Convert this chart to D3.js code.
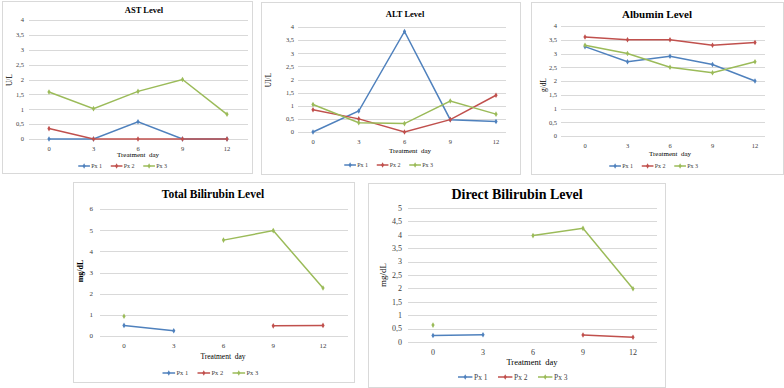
<!DOCTYPE html>
<html><head><meta charset="utf-8">
<script src="https://cdn.jsdelivr.net/npm/d3@7"></script>
<style>body{margin:0;background:#fff;}svg{display:block;} svg text{font-family:'Liberation Serif','Times New Roman',serif;}</style>
</head><body>
<script>
const days = [0, 3, 6, 9, 12];
const seriesNames = ["Px 1", "Px 2", "Px 3"];
const seriesColors = ["#4F81BD", "#C0504D", "#9BBB59"];

const astPx1 = [0, 0, 0.58, 0, 0];
const astPx2 = [0.35, 0, 0, 0, 0];
const astPx3 = [1.58, 1.02, 1.6, 2.0, 0.83];

const altPx1 = [0, 0.8, 3.83, 0.47, 0.4];
const altPx2 = [0.85, 0.5, 0, 0.47, 1.4];
const altPx3 = [1.05, 0.35, 0.32, 1.18, 0.68];

const albPx1 = [3.25, 2.7, 2.9, 2.6, 2.0];
const albPx2 = [3.6, 3.5, 3.5, 3.3, 3.4];
const albPx3 = [3.3, 3.0, 2.5, 2.3, 2.7];

const tbilPx1 = [0.5, 0.25, null, null, null];
const tbilPx2 = [null, null, null, 0.48, 0.5];
const tbilPx3 = [0.93, null, 4.53, 4.98, 2.27];

const dbilPx1 = [0.24, 0.27, null, null, null];
const dbilPx2 = [null, null, null, 0.26, 0.18];
const dbilPx3 = [0.63, null, 3.97, 4.24, 1.99];

const ticks4 = [0, 0.5, 1, 1.5, 2, 2.5, 3, 3.5, 4];
const ticks5 = [0, 0.5, 1, 1.5, 2, 2.5, 3, 3.5, 4, 4.5, 5];
const ticks6 = [0, 1, 2, 3, 4, 5, 6];

const panels = [
  {title:"AST Level", ylab:"U/L", data:[astPx1, astPx2, astPx3], ticks:ticks4, ymax:4,
   box:[2,1,252,173], x0:49, x12:227, g0:29, g1:248, y0:139, y1:20, tickR:24,
   tSize:8.5, tx:144, ty:13, ylx:12, yly:80, xlx:138, xly:157, lgx:127, lgy:166, fs:6.5, ylBold:false},
  {title:"ALT Level", ylab:"UI/L", data:[altPx1, altPx2, altPx3], ticks:ticks4, ymax:4,
   box:[261,2,520,174], x0:313, x12:496, g0:298, g1:506, y0:132, y1:27, tickR:294,
   tSize:8.5, tx:405, ty:17, ylx:271, yly:80, xlx:410, xly:153, lgx:393, lgy:165, fs:6.5, ylBold:false},
  {title:"Albumin Level", ylab:"g/dL", data:[albPx1, albPx2, albPx3], ticks:ticks4, ymax:4,
   box:[531,2,783,174], x0:585, x12:755, g0:561, g1:765, y0:136, y1:26, tickR:557,
   tSize:11, tx:657, ty:18, ylx:546, yly:85, xlx:670, xly:156, lgx:658, lgy:166, fs:6.5, ylBold:false},
  {title:"Total Bilirubin Level", ylab:"mg/dL", data:[tbilPx1, tbilPx2, tbilPx3], ticks:ticks6, ymax:6,
   box:[73,182,354,382], x0:124, x12:323, g0:100, g1:348, y0:336, y1:209, tickR:93,
   tSize:11.5, tx:213, ty:198, ylx:83, yly:271, xlx:223, xly:359, lgx:215, lgy:373, fs:7, ylBold:true},
  {title:"Direct Bilirubin Level", ylab:"mg/dL", data:[dbilPx1, dbilPx2, dbilPx3], ticks:ticks5, ymax:5,
   box:[368,183,665,387], x0:433, x12:633, g0:408, g1:657, y0:342, y1:208, tickR:402,
   tSize:14, tx:517, ty:199, ylx:386, yly:275, xlx:532, xly:365, lgx:518, lgy:377, fs:8, ylBold:false}
];

const svg = d3.select("body").append("svg").attr("width",784).attr("height",388);
const fmt = v => String(v).replace(".", ",");

panels.forEach(p => {
  const g = svg.append("g");
  const [bx0,by0,bx1,by1] = p.box;
  g.append("rect").attr("x",bx0+0.5).attr("y",by0+0.5).attr("width",bx1-bx0).attr("height",by1-by0)
    .attr("fill","#fff").attr("stroke","#d9d9d9").attr("stroke-width",1);
  const x = d3.scalePoint().domain(days).range([p.x0, p.x12]);
  const y = d3.scaleLinear().domain([0, p.ymax]).range([p.y0, p.y1]);
  g.append("g").selectAll("line").data(p.ticks).join("line")
    .attr("x1",p.g0).attr("x2",p.g1)
    .attr("y1",d=>Math.round(y(d))+0.5).attr("y2",d=>Math.round(y(d))+0.5)
    .attr("stroke","#d9d9d9").attr("stroke-width",1);
  g.append("g").selectAll("text").data(p.ticks).join("text")
    .attr("x",p.tickR).attr("y",d=>y(d)).attr("dy","0.35em").attr("text-anchor","end")
    .attr("font-size",p.fs).attr("fill","#404040").text(fmt);
  g.append("g").selectAll("text").data(days).join("text")
    .attr("x",d=>x(d)).attr("y",p.y0+ p.fs + 5).attr("text-anchor","middle")
    .attr("font-size",p.fs).attr("fill","#404040").text(d=>d);
  g.append("text").attr("x",p.tx).attr("y",p.ty).attr("text-anchor","middle")
    .attr("font-weight","bold").attr("font-size",p.tSize).attr("fill","#000").text(p.title);
  g.append("text").attr("transform",`translate(${p.ylx},${p.yly}) rotate(-90)`).attr("text-anchor","middle")
    .attr("font-size",p.fs+1).attr("font-weight",p.ylBold?"bold":"normal")
    .attr("fill","#000").text(p.ylab);
  g.append("text").attr("x",p.xlx).attr("y",p.xly).attr("text-anchor","middle")
    .attr("font-size",p.fs+0.5).attr("fill","#000").attr("xml:space","preserve").text("Treatment  day");
  const line = d3.line().defined(d=>d.v!==null).x(d=>x(d.d)).y(d=>y(d.v));
  p.data.forEach((s,i) => {
    const pts = days.map((d,j)=>({d, v:s[j]}));
    g.append("path").datum(pts).attr("d",line).attr("fill","none")
      .attr("stroke",seriesColors[i]).attr("stroke-width",1.5);
    g.append("g").selectAll("path").data(pts.filter(d=>d.v!==null)).join("path")
      .attr("d",d3.symbol(d3.symbolDiamond, 9)())
      .attr("transform",d=>`translate(${x(d.d)},${y(d.v)})`).attr("fill",seriesColors[i]);
  });
  const itemW = p.fs*5;
  const lg = g.append("g").attr("transform",`translate(${p.lgx - itemW*1.5},${p.lgy})`);
  seriesNames.forEach((n,i) => {
    const ix = i*itemW;
    lg.append("line").attr("x1",ix).attr("x2",ix+p.fs*1.8).attr("y1",0).attr("y2",0)
      .attr("stroke",seriesColors[i]).attr("stroke-width",1.5);
    lg.append("path").attr("d",d3.symbol(d3.symbolDiamond,8)()).attr("transform",`translate(${ix+p.fs*0.9},0)`)
      .attr("fill",seriesColors[i]);
    lg.append("text").attr("x",ix+p.fs*2).attr("y",0).attr("dy","0.35em")
      .attr("font-size",p.fs-0.5).attr("fill","#404040").text(n);
  });
});
</script>
</body></html>
